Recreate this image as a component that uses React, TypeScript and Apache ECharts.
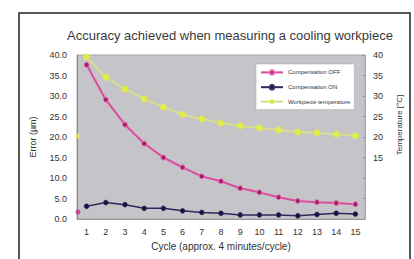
import React, { useEffect, useRef } from "react";
import * as echarts from "echarts";

const cycles = ["1", "2", "3", "4", "5", "6", "7", "8", "9", "10", "11", "12", "13", "14", "15"];
const compensationOff = [37.6, 29.1, 23.0, 18.4, 15.0, 12.6, 10.4, 9.2, 7.5, 6.5, 5.3, 4.4, 4.1, 3.9, 3.6];
const compensationOn = [3.1, 4.0, 3.5, 2.6, 2.6, 2.0, 1.6, 1.4, 1.0, 1.0, 1.0, 0.8, 1.1, 1.4, 1.2];
const workpieceTemp = [39.5, 34.6, 31.7, 29.3, 27.3, 25.5, 24.4, 23.4, 22.7, 22.2, 21.7, 21.2, 21.0, 20.7, 20.3];
// initial readings drawn at the left edge of the plot
const initialCycle = 0.55;
const initialErrorOff = 1.7;
const initialTemp = 20.2;
const leftTicks = [0, 5, 10, 15, 20, 25, 30, 35, 40];
const rightTickMin = 15;

const FONT = "Liberation Sans, Arial, sans-serif";

export default function App() {
  const ref = useRef<HTMLDivElement>(null);
  useEffect(() => {
    if (!ref.current) return;
    const chart = echarts.init(ref.current, undefined, { renderer: "svg" });
    chart.setOption({
      animation: false,
      backgroundColor: "#ffffff",
      textStyle: { fontFamily: FONT },
      title: {
        text: "Accuracy achieved when measuring a cooling workpiece",
        left: 225,
        textAlign: "center",
        top: 24,
        textStyle: { fontSize: 13, fontWeight: "normal", color: "#3a3a3a", fontFamily: FONT },
      },
      graphic: [
        {
          type: "rect",
          shape: { x: 19, y: 13, width: 391, height: 260 },
          style: { fill: "none", stroke: "#222", lineWidth: 1.5 },
          silent: true,
        },
      ],
      legend: {
        orient: "vertical",
        left: 256,
        top: 64,
        backgroundColor: "#ffffff",
        borderColor: "#aaa",
        borderWidth: 0.5,
        padding: [5, 4, 5, 4],
        itemGap: 8,
        itemWidth: 22,
        itemHeight: 6,
        textStyle: { fontSize: 6, color: "#333", fontFamily: FONT },
        data: ["Compensation OFF", "Compensation ON", "Workpiece temperature"],
      },
      grid: {
        left: 77,
        right: 49,
        top: 55,
        bottom: 40,
        show: true,
        backgroundColor: "#c4c4c9",
        borderColor: "#a8a8ac",
        borderWidth: 1,
      },
      xAxis: [
        {
          type: "category",
          data: cycles,
          boundaryGap: true,
          name: "Cycle (approx. 4 minutes/cycle)",
          nameLocation: "middle",
          nameGap: 22,
          nameTextStyle: { fontSize: 10, color: "#333", fontFamily: FONT },
          axisLine: { lineStyle: { color: "#999" } },
          axisTick: { show: false },
          axisLabel: { fontSize: 9, color: "#333", margin: 8 },
        },
        {
          type: "value",
          min: 0.5,
          max: 15.5,
          show: false,
        },
      ],
      yAxis: [
        {
          type: "value",
          min: 0,
          max: 40,
          interval: 5,
          name: "Error (µm)",
          nameLocation: "middle",
          nameRotate: 90,
          nameGap: 40,
          nameTextStyle: { fontSize: 9, color: "#333", fontFamily: FONT },
          axisLine: { show: true, lineStyle: { color: "#888" } },
          axisTick: { show: false },
          splitLine: { show: false },
          axisLabel: {
            fontSize: 9,
            color: "#333",
            margin: 10,
            formatter: (v: number) => (leftTicks.includes(v) ? v.toFixed(1) : ""),
          },
        },
        {
          type: "value",
          min: 0,
          max: 40,
          interval: 5,
          position: "right",
          name: "Temperature [°C]",
          nameLocation: "middle",
          nameRotate: 90,
          nameGap: 30,
          nameTextStyle: { fontSize: 8, color: "#333", fontFamily: FONT, padding: [0, 0, 0, 24] },
          axisLine: { show: true, lineStyle: { color: "#a8a8ac" } },
          axisTick: { show: true, inside: true, length: 3, lineStyle: { color: "#999" } },
          splitLine: { show: false },
          axisLabel: {
            fontSize: 9,
            color: "#333",
            margin: 8,
            formatter: (v: number) => (v >= rightTickMin ? String(v) : ""),
          },
        },
      ],
      series: [
        {
          name: "Compensation OFF",
          type: "line",
          data: compensationOff,
          symbol: "circle",
          symbolSize: 5,
          lineStyle: { color: "#dc4c9c", width: 2 },
          itemStyle: { color: "#a02070", borderColor: "#f070b0", borderWidth: 1 },
        },
        {
          name: "Compensation ON",
          type: "line",
          data: compensationOn,
          symbol: "circle",
          symbolSize: 5,
          lineStyle: { color: "#2a2a5a", width: 1.5 },
          itemStyle: { color: "#151545", borderColor: "#3a3a70", borderWidth: 0.5 },
        },
        {
          name: "Workpiece temperature",
          type: "line",
          yAxisIndex: 1,
          data: workpieceTemp,
          symbol: "circle",
          symbolSize: 6,
          lineStyle: { color: "#d6e08e", width: 2 },
          itemStyle: { color: "#e2ec48", borderColor: "#e2ec48" },
        },
        {
          name: "initial-off",
          type: "scatter",
          xAxisIndex: 1,
          yAxisIndex: 0,
          data: [[initialCycle, initialErrorOff]],
          symbol: "circle",
          symbolSize: 5,
          itemStyle: { color: "#c03088" },
        },
        {
          name: "initial-temp",
          type: "scatter",
          xAxisIndex: 1,
          yAxisIndex: 1,
          data: [[initialCycle, initialTemp]],
          symbol: "circle",
          symbolSize: 5,
          itemStyle: { color: "#e2ee50" },
        },
      ],
    });
    return () => chart.dispose();
  }, []);
  return <div ref={ref} style={{ width: 414, height: 259, position: "absolute", left: 0, top: 0 }} />;
}
